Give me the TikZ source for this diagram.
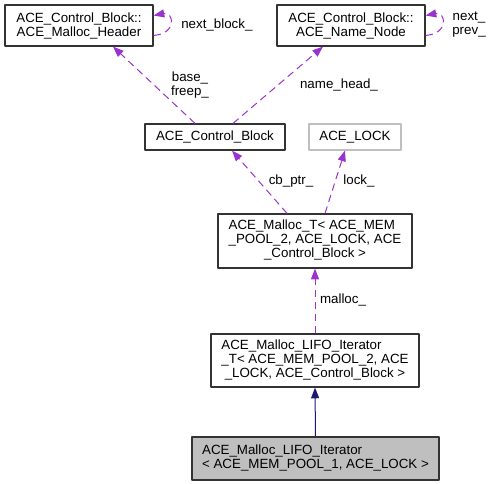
\documentclass[tikz,border=0pt]{standalone}
\usepackage{fontspec}
\setmainfont{Liberation Sans}
\usetikzlibrary{arrows.meta,calc}
\definecolor{usagecol}{HTML}{9A32CD}
\definecolor{inhcol}{HTML}{191970}
\definecolor{grey}{HTML}{BFBFBF}
\newcommand{\lastrow}[1]{\multicolumn{1}{@{}c@{}}{#1}}
\begin{document}
\begin{tikzpicture}[x=0.75pt, y=-0.75pt, font=\fontsize{10}{10.5}\selectfont, line join=round,
  cls/.style 2 args={draw=black!80, line width=0.9pt, inner sep=0pt, align=center, minimum width=#1*0.75pt, minimum height=#2*0.75pt},
  usage/.style={draw=usagecol, line width=0.75pt, dash pattern=on 5.5pt off 3.5pt, -{Triangle[length=8pt,width=6pt,fill=usagecol]}},
  inh/.style={draw=inhcol, line width=0.75pt, -{Triangle[length=8pt,width=6pt,fill=inhcol]}},
  lbl/.style={inner sep=0pt, align=center}]
\useasboundingbox (0,0) rectangle (492,484);
% classes
\node[cls={148}{41}] (hdr) at (79,25.5) {ACE\_Control\_Block::\\ACE\_Malloc\_Header};
\node[cls={148}{41}] (nnode) at (351,25.5) {ACE\_Control\_Block::\\ACE\_Name\_Node};
\node[cls={140}{26}] (cblk) at (215,137) {ACE\_Control\_Block};
\node[cls={92}{26}, draw=grey] (lock) at (355,137) {ACE\_LOCK};
\node[cls={194}{54}] (mallocT) at (315,241) {\begin{tabular}{@{}l@{}}ACE\_Malloc\_T< ACE\_MEM\\\_POOL\_2, ACE\_LOCK, ACE\\\lastrow{\_Control\_Block >}\end{tabular}};
\node[cls={208}{53}] (lifoT) at (315,360.5) {\begin{tabular}{@{}l@{}}ACE\_Malloc\_LIFO\_Iterator\\\_T< ACE\_MEM\_POOL\_2, ACE\\\lastrow{\_LOCK, ACE\_Control\_Block >}\end{tabular}};
\node[cls={247}{43}, fill=grey] (iter) at (315.5,458.5) {\begin{tabular}{@{}l@{}}ACE\_Malloc\_LIFO\_Iterator\\< ACE\_MEM\_POOL\_1, ACE\_LOCK >\end{tabular}};
% members
\draw[usage] ($(hdr.east)+(0,10)$) .. controls +(24,-2) and +(20,-4) .. ($(hdr.east)+(0,-10)$);
\node[lbl, anchor=west] (lnext) at (181,25) {next\_block\_};
\draw[usage] ($(nnode.east)+(0,10)$) .. controls +(24,-2) and +(20,-4) .. ($(nnode.east)+(0,-10)$);
\node[lbl] (lnp) at (469,25) {next\_\\prev\_};
\draw[usage] ($(cblk.north)+(-20,0)$) -- ($(hdr.south)+(34,0)$);
\node[lbl] (lbase) at (190,85) {base\_\\freep\_};
\draw[usage] ($(cblk.north)+(18,0)$) -- ($(nnode.south)+(-28,0)$);
\node[lbl] (lname) at (339,85) {name\_head\_};
\draw[usage] ($(mallocT.north)+(-28,0)$) -- ($(cblk.south)+(17,0)$);
\node[lbl] (lcb) at (291,181) {cb\_ptr\_};
\draw[usage] ($(mallocT.north)+(10,0)$) -- ($(lock.south)+(-10,0)$);
\node[lbl] (llock) at (359,181) {lock\_};
\draw[usage] (lifoT.north) -- (mallocT.south);
\node[lbl] (lmalloc) at (343,300) {malloc\_};
\draw[inh] (iter.north) -- (lifoT.south);
\end{tikzpicture}
\end{document}
